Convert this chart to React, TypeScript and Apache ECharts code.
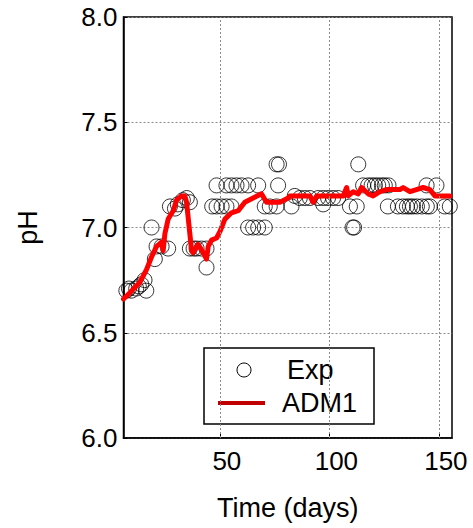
import React, { useEffect, useRef } from "react";
import * as echarts from "echarts";

const expDays = [
  7.3, 8.5, 9.6, 11.8, 13.0, 14.1, 15.6, 16.4,
  18.8, 20.3, 21.1, 23.4, 26.4,
  27.2, 29.5, 30.8, 33.1, 34.9, 36.3,
  36.3, 38.0, 39.4, 41.6, 43.9, 43.9,
  46.5, 48.5, 50.8, 53.0, 55.3,
  48.5, 53.0, 55.3, 57.6, 59.9, 62.9, 67.5, 76.6,
  75.9, 77.0,
  62.9, 65.2, 67.5, 70.5,
  70.5, 72.8, 75.9, 82.7,
  84.2, 86.5, 88.8, 91.1, 94.9, 97.2, 97.2, 99.4, 101.7, 104.0,
  109.4, 112.5, 110.6, 111.3, 113.2,
  115.4, 117.7, 119.3, 120.8, 122.3, 124.0, 125.3, 127.0, 144.4, 148.9,
  126.7, 131.3, 133.6, 135.4, 136.8, 138.2, 140.0, 142.2, 144.5, 145.9, 152.7, 155.0,
];
const expPH = [
  6.70, 6.71, 6.70, 6.71, 6.72, 6.73, 6.75, 6.70,
  7.00, 6.85, 6.91, 6.91, 6.90,
  7.10, 7.09, 7.11, 7.13, 7.14, 7.12,
  6.90, 6.90, 6.90, 6.90, 6.90, 6.81,
  7.10, 7.10, 7.10, 7.10, 7.10,
  7.20, 7.20, 7.20, 7.20, 7.20, 7.20, 7.20, 7.20,
  7.30, 7.30,
  7.00, 7.00, 7.00, 7.00,
  7.10, 7.10, 7.10, 7.10,
  7.15, 7.14, 7.14, 7.14, 7.14, 7.14, 7.11, 7.14, 7.14, 7.14,
  7.10, 7.10, 7.00, 7.00, 7.30,
  7.20, 7.20, 7.20, 7.20, 7.20, 7.20, 7.20, 7.20, 7.20, 7.20,
  7.10, 7.10, 7.10, 7.10, 7.10, 7.10, 7.10, 7.10, 7.10, 7.10, 7.10, 7.10,
];

const admDays = [
  6, 8.9, 13.5, 16.5, 18.8, 21.1, 23.4, 24.1, 24.9, 26.4, 28.7, 30.2, 32.5, 34.0,
  34.8, 35.5, 36.3, 37.1, 37.8, 40.1, 42.4, 43.9, 44.7, 46.2, 48.5, 50.0, 52.3,
  55.3, 58.4, 61.4, 65.2, 69.0, 71.3, 73.6, 77.4, 81.2, 82.0, 91.1, 92.6, 94.2,
  98.7, 106.3, 107.9, 108.6, 110.9, 113.2, 114.7, 117.7, 120.0, 123.1, 126.1,
  132.2, 133.7, 136.8, 139.8, 142.8, 145.9, 148.2, 155.0,
];
const admPH = [
  6.66, 6.69, 6.74, 6.80, 6.86, 6.91, 6.93, 6.89, 6.97, 7.04, 7.08, 7.13, 7.15, 7.15,
  7.12, 7.05, 6.97, 6.89, 6.88, 6.92, 6.88, 6.85, 6.91, 6.94, 6.95, 6.98, 7.04,
  7.07, 7.08, 7.12, 7.14, 7.16, 7.12, 7.12, 7.12, 7.14, 7.15, 7.15, 7.12, 7.15,
  7.15, 7.15, 7.19, 7.15, 7.17, 7.16, 7.19, 7.16, 7.15, 7.17, 7.18,
  7.18, 7.19, 7.17, 7.18, 7.19, 7.18, 7.15, 7.15,
];

const xTicks = [50, 100, 150];
const seriesNames = ["Exp", "ADM1"];
const xTitle = "Time (days)";
const yTitle = "pH";

const FONT = "'Liberation Sans', Arial, sans-serif";

export default function App() {
  const ref = useRef<HTMLDivElement>(null);
  useEffect(() => {
    const chart = echarts.init(ref.current!, null, { renderer: "svg" });
    const gridLine = { color: "#8a8a8a", type: [2, 2] as number[], width: 1 };
    chart.setOption({
      animation: false,
      backgroundColor: "#fff",
      grid: {
        left: 123.5,
        right: 21,
        top: 17,
        bottom: 90,
        show: true,
        borderColor: "#000",
        borderWidth: 1.5,
        backgroundColor: "transparent",
      },
      xAxis: {
        type: "value",
        min: 6,
        max: 156,
        name: xTitle,
        nameLocation: "middle",
        nameGap: 56,
        nameTextStyle: { fontSize: 27, color: "#000", fontFamily: FONT },
        axisLine: { show: true, lineStyle: { color: "#000", width: 1.5 } },
        axisTick: { show: true, inside: true, length: 4, customValues: xTicks, lineStyle: { color: "#000" } },
        axisLabel: {
          customValues: xTicks,
          fontSize: 26,
          color: "#000",
          fontFamily: FONT,
          margin: 10,
          padding: [0, 0, 0, 14],
        },
        splitLine: { show: false },
      },
      yAxis: {
        type: "value",
        min: 6,
        max: 8,
        interval: 0.5,
        name: yTitle,
        nameLocation: "middle",
        nameGap: 82,
        nameTextStyle: { fontSize: 27, color: "#000", fontFamily: FONT },
        axisLine: { show: true, lineStyle: { color: "#000", width: 1.5 } },
        axisTick: { show: true, inside: true, length: 4, lineStyle: { color: "#000" } },
        axisLabel: {
          fontSize: 26,
          color: "#000",
          fontFamily: FONT,
          margin: 6,
          formatter: (v: number) => v.toFixed(1),
        },
        splitLine: { show: true, lineStyle: gridLine },
      },
      series: [
        {
          name: seriesNames[0],
          type: "scatter",
          data: expDays.map((d, i) => [d, expPH[i]]),
          symbol: "circle",
          symbolSize: 15,
          itemStyle: { color: "rgba(0,0,0,0)", borderColor: "#000", borderWidth: 1 },
          z: 2,
          markLine: {
            silent: true,
            symbol: "none",
            label: { show: false },
            lineStyle: gridLine,
            data: xTicks.map((v) => ({ xAxis: v })),
          },
        },
        {
          name: seriesNames[1],
          type: "line",
          data: admDays.map((d, i) => [d, admPH[i]]),
          showSymbol: false,
          symbol: "none",
          lineStyle: { color: "#ff0000", width: 5, join: "round", cap: "round" },
          itemStyle: { color: "#ff0000" },
          z: 3,
        },
      ],
      graphic: [
        {
          type: "group",
          z: 100,
          children: [
            {
              type: "rect",
              shape: { x: 204, y: 348, width: 170, height: 76 },
              style: { fill: "#fff", stroke: "#000", lineWidth: 1.5 },
            },
            {
              type: "circle",
              shape: { cx: 244, cy: 370, r: 7 },
              style: { fill: "none", stroke: "#000", lineWidth: 1 },
            },
            {
              type: "text",
              x: 287,
              y: 370,
              style: {
                text: seriesNames[0],
                fontSize: 27,
                fontFamily: FONT,
                fill: "#000",
                align: "left",
                verticalAlign: "middle",
              },
            },
            {
              type: "line",
              shape: { x1: 218, y1: 403, x2: 265, y2: 403 },
              style: { stroke: "#c00000", lineWidth: 4 },
            },
            {
              type: "text",
              x: 282,
              y: 403,
              style: {
                text: seriesNames[1],
                fontSize: 27,
                fontFamily: FONT,
                fill: "#000",
                align: "left",
                verticalAlign: "middle",
              },
            },
          ],
        },
      ],
    });
    return () => chart.dispose();
  }, []);
  return (
    <div
      ref={ref}
      style={{ position: "fixed", left: 0, top: 0, width: 473, height: 528 }}
    />
  );
}
